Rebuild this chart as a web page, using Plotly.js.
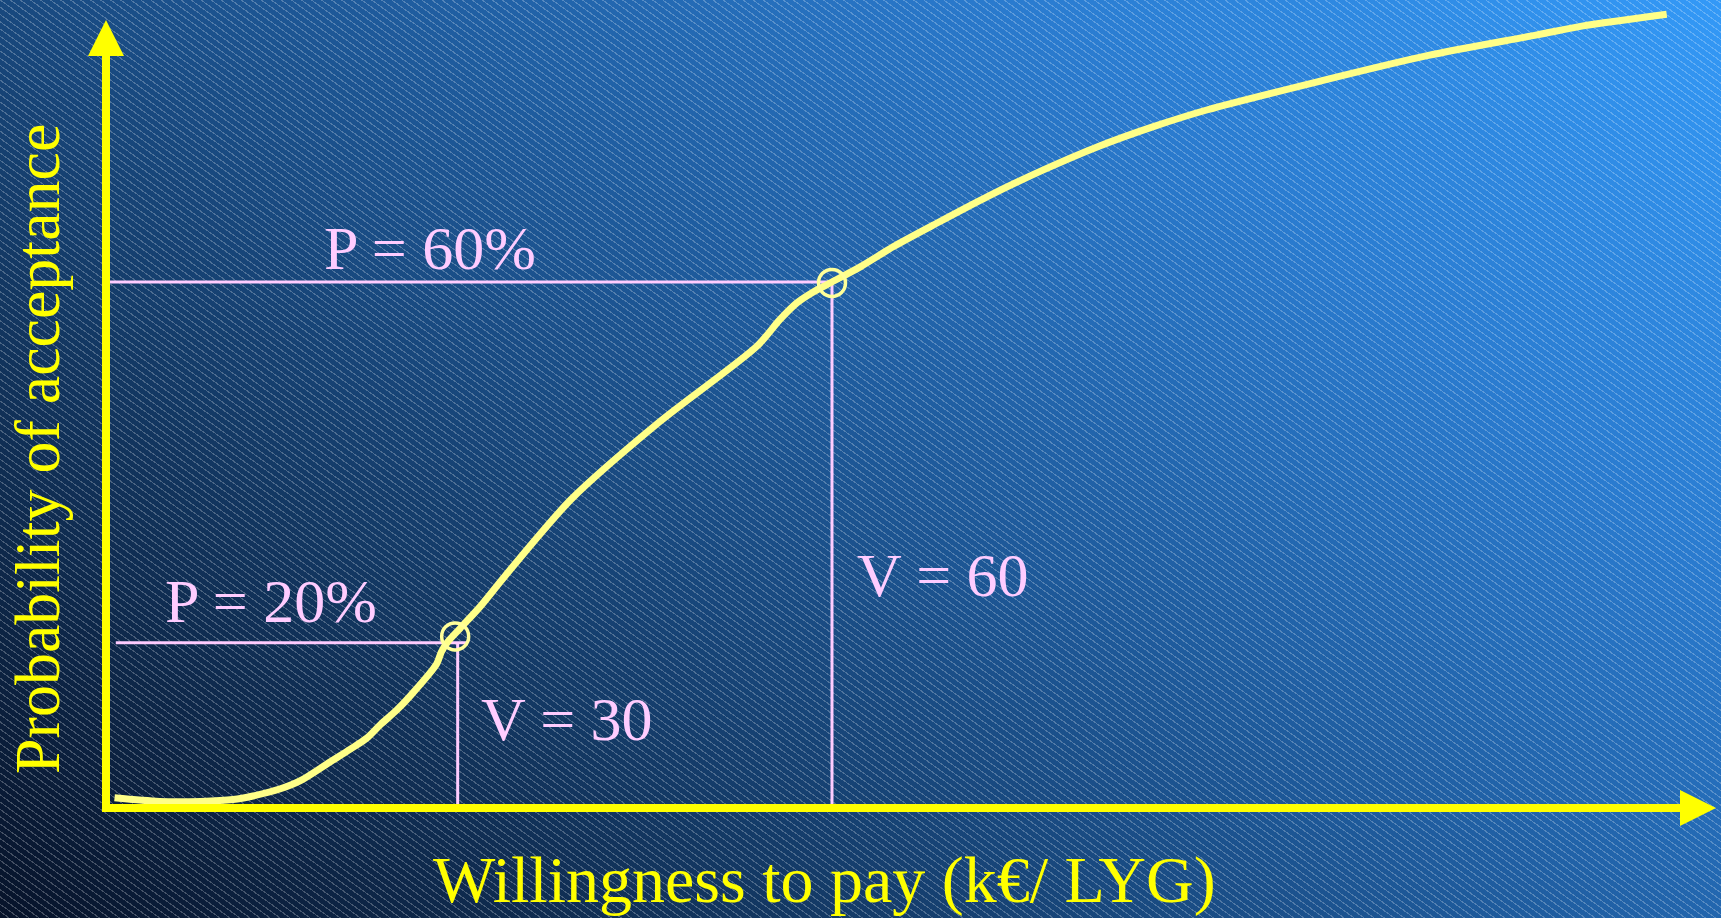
<!DOCTYPE html>
<html>
<head>
<meta charset="utf-8">
<script src="https://cdn.plot.ly/plotly-3.0.1.min.js"></script>
<style>
  html, body { margin: 0; padding: 0; width: 1721px; height: 918px; overflow: hidden; }
  body {
    background:
      repeating-linear-gradient(36deg, rgba(255,255,255,0) 0px, rgba(255,255,255,0) 4.8px, rgba(255,255,255,0.24) 4.8px, rgba(255,255,255,0.24) 5.9px),
      linear-gradient(39deg, #07132a 0%, #133863 28%, #1e5a9b 52%, #2a7bcf 75%, #3399f7 100%);
  }
  #chart { width: 1721px; height: 918px; }
</style>
</head>
<body>
<div id="chart"></div>
<script>
// Acceptance curve: willingness to pay (k€/LYG) vs probability of acceptance (%)
const wtp  = [2.5, 6.1, 9.4, 12.0, 13.6, 15.8, 17.4, 19.8, 21.4, 22.7, 23.8, 25.1, 26.2, 28.3, 28.7, 29.2, 30.2, 31.8, 33.8, 39.1, 46.1, 54.0, 55.8, 57.2, 58.5, 60.0, 62.3, 64.9, 68.1, 72.5, 76.9, 81.3, 85.7, 90.1, 98.9, 107.7, 116.5, 120.2, 126.9];
const prob = [2.8, 2.4, 2.4, 2.6, 3.0, 3.8, 4.7, 6.8, 8.2, 9.4, 10.9, 12.5, 14.1, 17.6, 19.0, 20.1, 21.6, 24.0, 27.4, 35.9, 44.4, 52.9, 55.8, 57.7, 58.9, 60.0, 61.7, 63.9, 66.3, 69.5, 72.4, 75.0, 77.2, 79.1, 82.2, 85.1, 87.4, 88.4, 89.7];

// Highlighted reading points
const markV = [30, 60];          // V values (k€/LYG)
const markP = [20, 60];          // P values (%)
const circleX = [29.8, 60.0];
const circleY = [20.7, 59.9];
const hLineStart = [2.6, 1.8];   // where horizontal guides begin
const hLineEnd = [30.8, 60];     // where horizontal guides end
const axisBase = 1.67;           // P level of the drawn x axis
const pLabels = ["P = 20%", "P = 60%"];
const vLabels = ["V = 30", "V = 60"];
const pLabelPos = [[15.0, 24.6], [27.8, 63.8]];
const vLabelPos = [[38.8, 11.5], [68.9, 27.5]];

const xTitle = "Willingness to pay (k€/ LYG)";
const yTitle = "Probability of acceptance";

const pink = "#ffccff";
const axisYellow = "#ffff00";
const curveYellow = "#ffff88";
const serif = "Liberation Serif, Times New Roman, serif";

const traces = [];
// guide lines
for (let i = 0; i < markV.length; i++) {
  traces.push({
    x: [hLineStart[i], hLineEnd[i]], y: [markP[i], markP[i]],
    mode: "lines", line: {color: pink, width: 3}, hoverinfo: "skip", showlegend: false
  });
  traces.push({
    x: [markV[i], markV[i]], y: [markP[i], axisBase],
    mode: "lines", line: {color: pink, width: 3}, hoverinfo: "skip", showlegend: false
  });
}
// curve
traces.push({
  x: wtp, y: prob, mode: "lines",
  line: {color: curveYellow, width: 7, shape: "spline", smoothing: 0.8},
  hoverinfo: "skip", showlegend: false
});
// circles
traces.push({
  x: circleX, y: circleY, mode: "markers",
  marker: {symbol: "circle-open", size: 27, color: "#ffff99", line: {width: 3.5, color: "#ffff99"}},
  hoverinfo: "skip", showlegend: false
});

const W = 1721, H = 918;
const px = v => v / W;
const py = v => 1 - v / H;

const annotations = [];
for (let i = 0; i < pLabels.length; i++) {
  annotations.push({x: pLabelPos[i][0], y: pLabelPos[i][1], xref: "x", yref: "y", text: pLabels[i],
    showarrow: false, xanchor: "center", yanchor: "middle", font: {family: serif, size: 62, color: pink}});
  annotations.push({x: vLabelPos[i][0], y: vLabelPos[i][1], xref: "x", yref: "y", text: vLabels[i],
    showarrow: false, xanchor: "center", yanchor: "middle", font: {family: serif, size: 62, color: pink}});
}
annotations.push({x: px(824), y: py(880), xref: "paper", yref: "paper", text: xTitle, showarrow: false,
  xanchor: "center", yanchor: "middle", font: {family: serif, size: 66, color: axisYellow}});
annotations.push({x: px(38), y: py(449), xref: "paper", yref: "paper", text: yTitle, showarrow: false,
  textangle: -90, xanchor: "center", yanchor: "middle", font: {family: serif, size: 64, color: axisYellow}});

const shapes = [
  {type: "line", xref: "paper", yref: "paper", x0: px(106), x1: px(106), y0: py(812), y1: py(50),
   line: {color: axisYellow, width: 8}},
  {type: "line", xref: "paper", yref: "paper", x0: px(102), x1: px(1685), y0: py(808), y1: py(808),
   line: {color: axisYellow, width: 8}},
  {type: "path", xref: "paper", yref: "paper",
   path: `M${px(106)},${py(20)} L${px(88)},${py(56)} L${px(124)},${py(56)} Z`,
   fillcolor: axisYellow, line: {width: 0}},
  {type: "path", xref: "paper", yref: "paper",
   path: `M${px(1716)},${py(808)} L${px(1680)},${py(790)} L${px(1680)},${py(826)} Z`,
   fillcolor: axisYellow, line: {width: 0}}
];

const layout = {
  width: W, height: H,
  margin: {l: 0, r: 0, t: 0, b: 0, pad: 0},
  paper_bgcolor: "rgba(0,0,0,0)", plot_bgcolor: "rgba(0,0,0,0)",
  xaxis: {range: [-6.68, 131.25], visible: false, fixedrange: true},
  yaxis: {range: [-10.53, 91.27], visible: false, fixedrange: true},
  showlegend: false,
  annotations: annotations,
  shapes: shapes
};

Plotly.newPlot("chart", traces, layout, {displayModeBar: false, staticPlot: true});
</script>
</body>
</html>
